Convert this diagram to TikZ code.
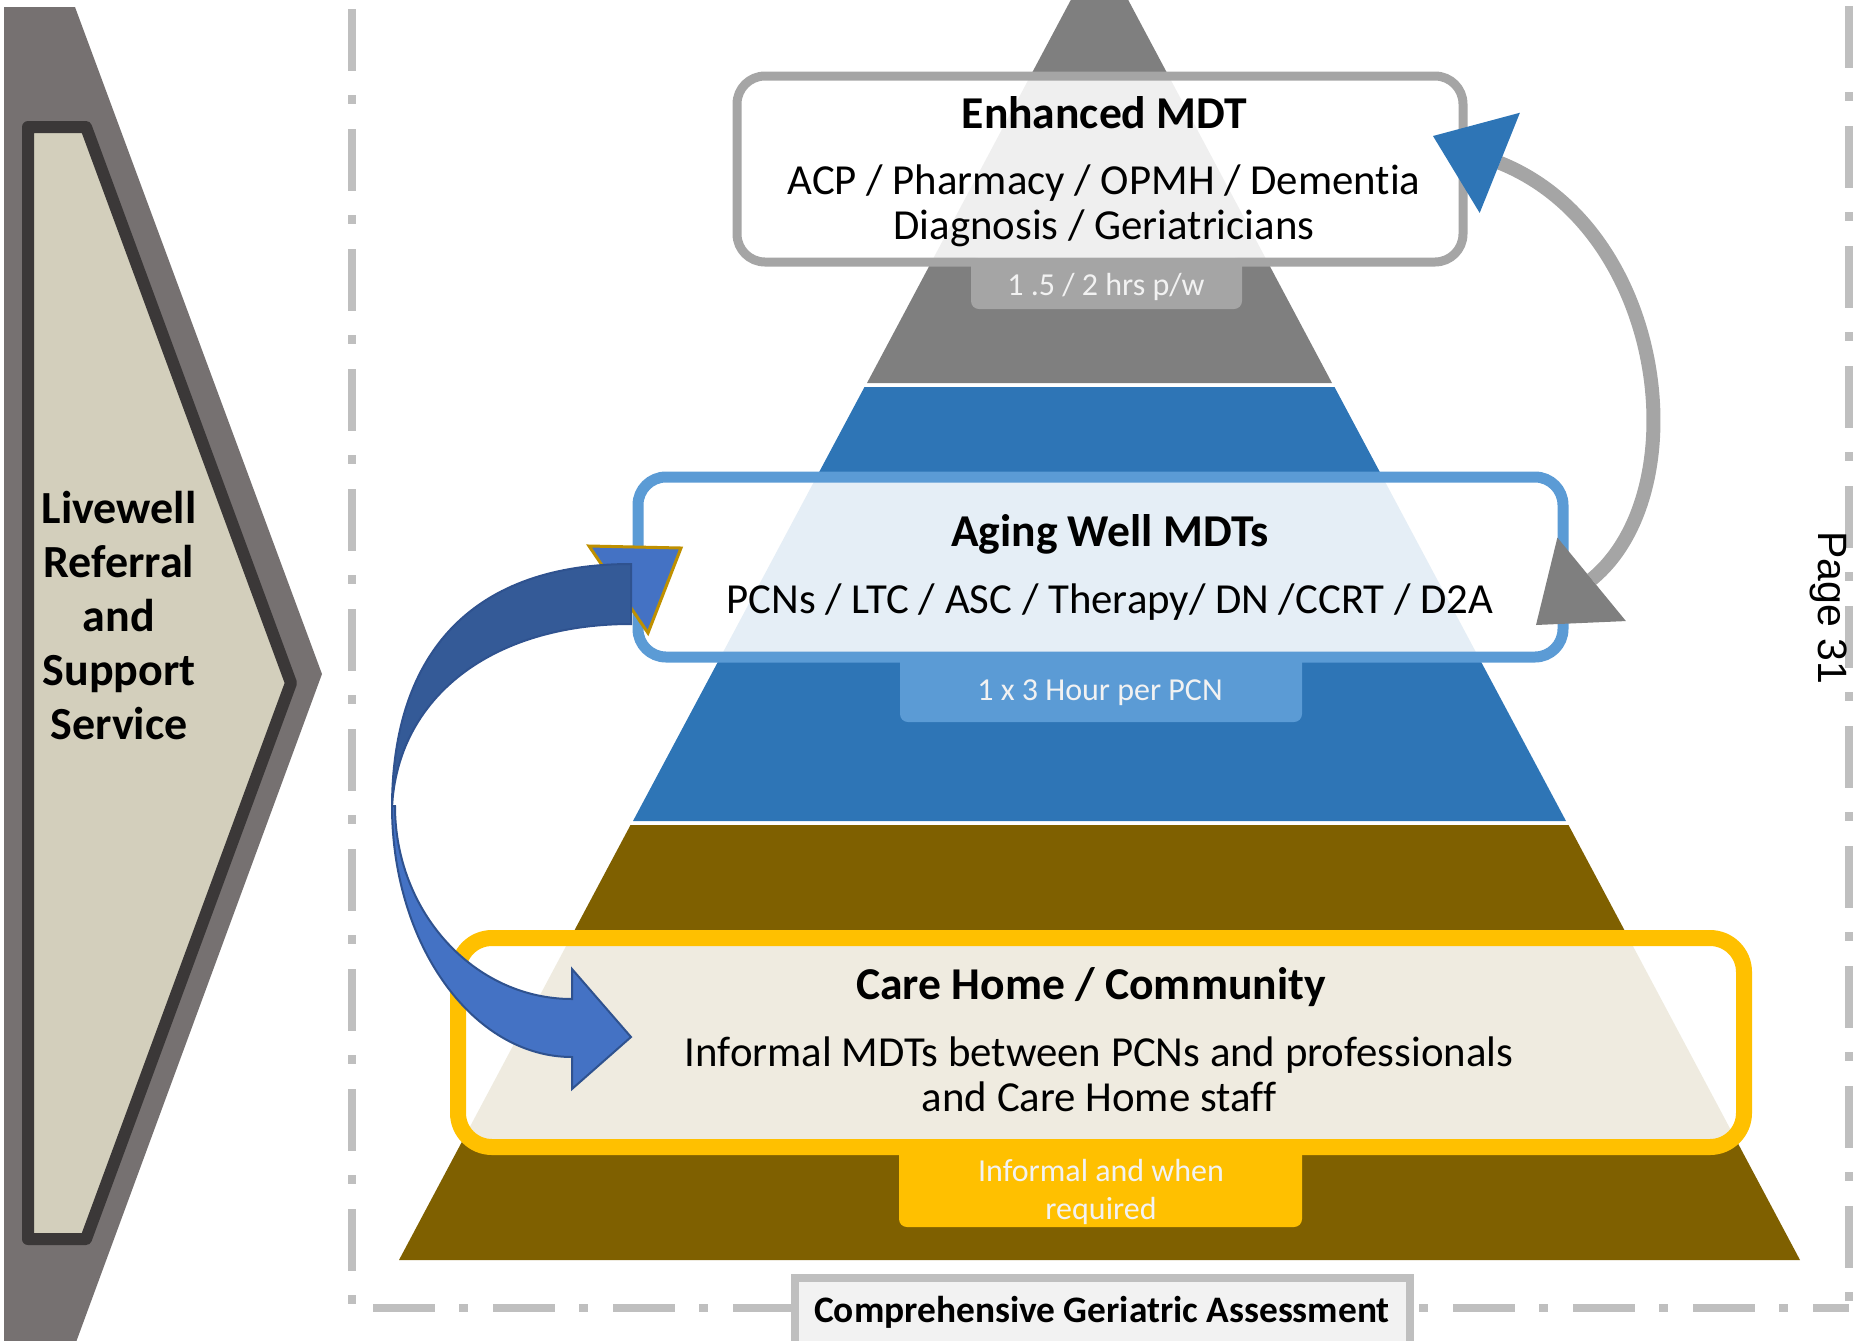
\documentclass[tikz,border=0pt]{standalone}
\usepackage{fontspec}
\setmainfont{Carlito}[Ligatures={NoCommon}]
\newfontfamily\pagefont{Liberation Sans}
\usetikzlibrary{arrows.meta}

\definecolor{pyrgray}{HTML}{7F7F7F}
\definecolor{pyrblue}{HTML}{2E75B6}
\definecolor{pyrbrown}{HTML}{7F6000}
\definecolor{boxgray}{HTML}{A5A5A5}
\definecolor{boxblue}{HTML}{5B9BD5}
\definecolor{boxgold}{HTML}{FFC000}
\definecolor{framegray}{HTML}{BFBFBF}
\definecolor{chevout}{HTML}{767171}
\definecolor{chevdark}{HTML}{3B3838}
\definecolor{chevfill}{HTML}{D3CFBC}
\definecolor{arrdark}{HTML}{345A97}
\definecolor{arrlight}{HTML}{4472C4}
\definecolor{arredge}{HTML}{2F528F}
\definecolor{goldedge}{HTML}{BF9000}
\definecolor{tabtext}{HTML}{F2F2F2}
\definecolor{cgafill}{HTML}{F2F2F2}
\definecolor{headblue}{HTML}{2E75B6}
\definecolor{headgray}{HTML}{7F7F7F}

\begin{document}
\begin{tikzpicture}[x=0.5pt,y=-0.5pt,
  mdtbox/.style={rounded corners=14pt, fill=white, fill opacity=0.88, draw opacity=1,
    inner sep=0pt, outer sep=0pt},
  tabshape/.style={rounded corners=4pt, inner sep=0pt, outer sep=0pt},
  titletxt/.style={font=\fontsize{22.8}{26}\selectfont\bfseries, anchor=base, inner sep=0pt},
  bodytxt/.style={font=\fontsize{21.4}{22.5}\selectfont, align=center, inner sep=0pt},
  bodyline/.style={font=\fontsize{21.4}{22.5}\selectfont, anchor=base, inner sep=0pt},
  tabtxt/.style={font=\fontsize{16}{19}\selectfont, text=tabtext, align=center, inner sep=0pt},
  framedash/.style={framegray, line width=4pt, dash pattern=on 31pt off 12pt on 4.5pt off 12.5pt},
]
\useasboundingbox (0,0) rectangle (1864,1340);
\clip (0,0) rectangle (1864,1340);

% ---- left chevron ----
\fill[chevout] (4,7) -- (75,7) -- (322,674) -- (75,1345) -- (4,1345) -- cycle;
\draw[chevdark, line width=6pt, fill=chevfill, line join=round]
  (28,127) -- (86,127) -- (291,683) -- (86,1239) -- (28,1239) -- cycle;
\node[font=\fontsize{23}{27}\selectfont\bfseries, align=center, inner sep=0pt]
  (livewell) at (119,616) {Livewell\\Referral\\and\\Support\\Service};

% ---- dash-dot frame ----
\draw[framedash] (352,9) -- (352,1308) -- (1849,1308);
\draw[framedash] (1849,6) -- (1849,1308);

% ---- pyramid ----
\fill[pyrgray]  (1099.5,-54) -- (1332,383) -- (867,383) -- cycle;
\fill[pyrblue]  (864.5,387) -- (1334.5,387) -- (1566,821) -- (633,821) -- cycle;
\fill[pyrbrown] (630.5,825) -- (1568.5,825) -- (1800,1260) -- (399,1260) -- cycle;

% ---- tabs ----
\node[tabshape, fill=boxgray, minimum width=135.5pt, minimum height=26pt] (tab1) at (1106.5,283) {};
\node[tabshape, fill=boxblue, minimum width=201pt, minimum height=35pt] (tab2) at (1101,687) {};
\node[tabshape, fill=boxgold, minimum width=201.5pt, minimum height=43.5pt] (tab3) at (1100.5,1183.5) {};

% ---- boxes ----
\node[mdtbox, draw=boxgray, line width=4.5pt, minimum width=363pt, minimum height=93pt] (emdt) at (1100,169) {};
\node[mdtbox, draw=boxblue, line width=5.5pt, minimum width=462.5pt, minimum height=90pt] (aw) at (1100.5,567) {};
\node[mdtbox, draw=boxgold, line width=8pt, rounded corners=17pt, minimum width=643pt, minimum height=104.5pt] (ch) at (1101,1042.5) {};

% ---- texts ----
\node[titletxt] (emdt-t) at (1104.5,128) {Enhanced MDT};
\node[bodytxt] (emdt-b) at (1104,205.5) {ACP / Pharmacy / OPMH / Dementia\\Diagnosis / Geriatricians};
\node[tabtxt, anchor=base] (tab1-t) at (1106,295) {1 .5 / 2 hrs p/w};

\node[titletxt] (aw-t) at (1110,546) {Aging Well MDTs};
\node[bodyline] (aw-b) at (1110,613) {PCNs / LTC / ASC / Therapy/ DN /CCRT / D2A};
\node[tabtxt, anchor=base] (tab2-t) at (1100,700) {1 x 3 Hour per PCN};

\node[titletxt] (ch-t) at (1091,999) {Care Home / Community};
\node[bodytxt] (ch-b) at (1099,1074.5) {Informal MDTs between PCNs and professionals\\and Care Home staff};
\node[tabtxt] (tab3-t) at (1101,1191.5) {Informal and when\\required};

% ---- curved block arrow (Aging Well -> Care Home) ----
\filldraw[fill=arrlight, draw=goldedge, line width=1.5pt, line join=miter]
  (589,546) -- (681,548) -- (648,633) -- cycle;
\filldraw[fill=arrdark, draw=arredge, line width=1pt]
  (631,564) .. controls (476,564) and (392,649) .. (392,808)
  .. controls (397,698) and (491,624) .. (631,624) -- cycle;
\filldraw[fill=arrlight, draw=arredge, line width=1pt, line join=miter]
  (392,806) .. controls (392,945) and (473,1057) .. (572,1057)
  -- (572,1089) -- (631,1037) -- (572,969) -- (572,999)
  .. controls (474,999) and (395,912) .. (395,806) -- cycle;

% ---- curved gray arrow (Enhanced MDT <-> Aging Well) ----
\coordinate (gA) at (1433,136);
\coordinate (gB) at (1536,625);
\draw[boxgray, line width=7pt,
  {Triangle[length=36pt,width=54pt,line width=0pt,color=headblue,fill=headblue]}-{Triangle[length=36pt,width=54pt,line width=0pt,color=headgray,fill=headgray]}]
  (gA) .. controls (1667,230) and (1698,492) .. (gB);

% ---- bottom label ----
\node[draw=framegray, line width=4pt, fill=cgafill, inner sep=0pt, outer sep=0pt,
  minimum width=307.5pt, minimum height=45pt] (cgabox) at (1102.5,1323) {};
\node[font=\fontsize{18.7}{22}\selectfont\bfseries, anchor=base, inner sep=0pt] (cga) at (1102,1322) {Comprehensive Geriatric Assessment};

% ---- page number ----
\node[font=\pagefont\fontsize{20.5}{24}\selectfont, rotate=-90, inner sep=0pt] (page) at (1829,608) {Page 31};
\end{tikzpicture}
\end{document}
